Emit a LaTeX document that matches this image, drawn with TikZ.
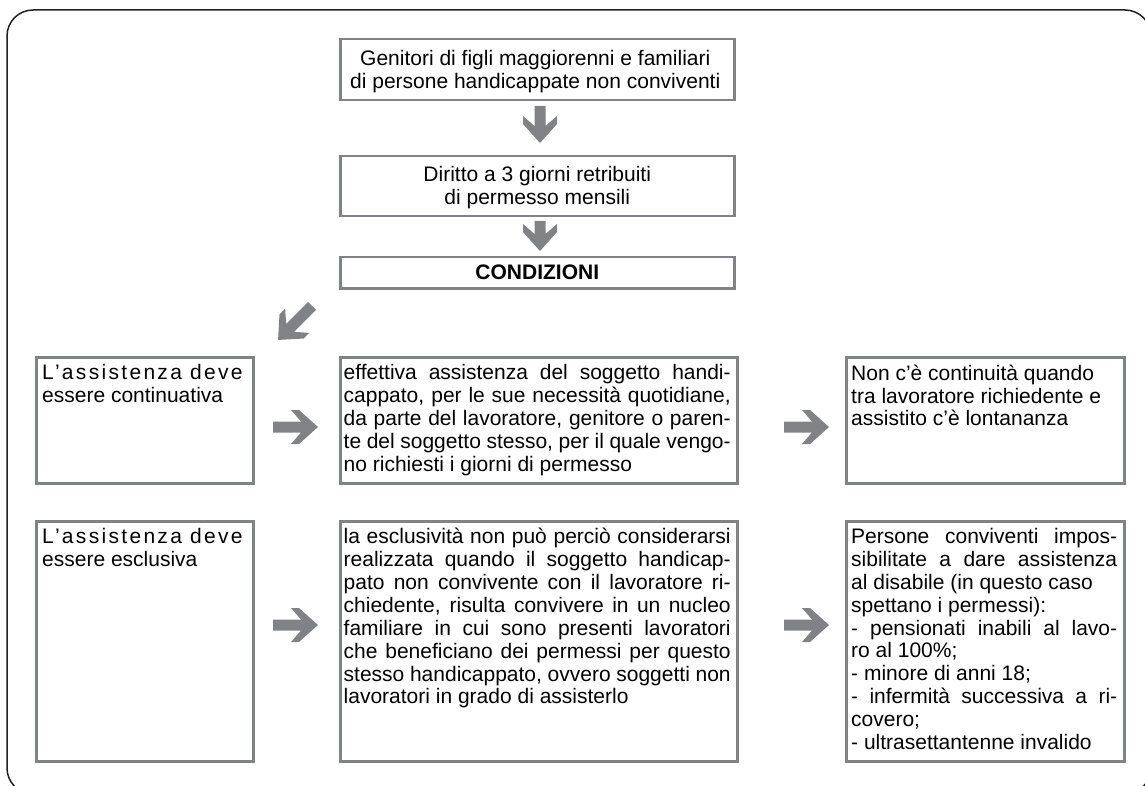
\documentclass[tikz,border=0pt]{standalone}
\usepackage{fontspec}
\setmainfont{Liberation Sans}
\usetikzlibrary{calc}
\definecolor{boxgray}{HTML}{808285}
\definecolor{framecol}{HTML}{231F20}
\newcommand{\fatarrow}[4]{% x, y (tail centre), angle, length
  \fill[boxgray, shift={(#1,#2)}, rotate=#3]
    (0,-5.5) -- (#4-17,-5.5) -- (#4-27,-17) -- (#4-19,-17) -- (#4,0)
    -- (#4-19,17) -- (#4-27,17) -- (#4-17,5.5) -- (0,5.5) -- cycle;}
\tikzset{
  box/.style={draw=boxgray, line width=2.5pt, fill=white, inner sep=0pt, anchor=north west},
  ctext/.style={align=center, font=\fontsize{21}{22.9}\selectfont, inner sep=0pt},
  ltext/.style={align=justify, font=\fontsize{21}{22.9}\selectfont, inner sep=0pt, anchor=north west},
}
\begin{document}
\begin{tikzpicture}[x=1pt,y=-1pt]
\useasboundingbox (0,0) rectangle (1145,786);
% outer frame
\draw[framecol, line width=1.5pt, rounded corners=26pt] (7,10) rectangle (1151,794);
% top boxes
\node[box, minimum width=394pt, minimum height=61pt] (b1) at (339,38) {};
\node[ctext] at ($(b1.center)+(-2,1.5)$) {Genitori di figli maggiorenni e familiari\\di persone handicappate non conviventi};
\node[box, minimum width=394pt, minimum height=60pt] (b2) at (339,155) {};
\node[ctext] at ($(b2.center)+(0,1)$) {Diritto a 3 giorni retribuiti\\di permesso mensili};
\node[box, minimum width=394pt, minimum height=31pt] (b3) at (339,256) {};
\node[ctext] at (b3.center) {\bfseries CONDIZIONI};
% row 1
\node[box, minimum width=217pt, minimum height=126pt] (l1) at (35,356) {};
\node[box, minimum width=397pt, minimum height=126pt] (m1) at (339,356) {};
\node[box, minimum width=278pt, minimum height=126pt] (r1) at (845,356) {};
% row 2
\node[box, minimum width=217pt, minimum height=240pt] (l2) at (35,520) {};
\node[box, minimum width=397pt, minimum height=240pt] (m2) at (339,520) {};
\node[box, minimum width=278pt, minimum height=240pt] (r2) at (845,520) {};
% texts
\node[ltext, text width=205pt] at ($(l1.north west)+(7,8.5)$) {{\addfontfeature{LetterSpace=11}L’assistenza deve}\\essere continuativa};
\node[ltext, text width=387pt] at ($(m1.north west)+(4.5,8.5)$) {effettiva assistenza del soggetto handi-\linebreak cappato, per le sue necessità quotidiane,\linebreak da parte del lavoratore, genitore o paren-\linebreak te del soggetto stesso, per il quale vengo-\linebreak no richiesti i giorni di permesso};
\node[ltext, text width=266pt] at ($(r1.north west)+(6,8.5)$) {Non c’è continuità quando\\tra lavoratore richiedente e\\assistito c’è lontananza};
\node[ltext, text width=205pt] at ($(l2.north west)+(7,8)$) {{\addfontfeature{LetterSpace=11}L’assistenza deve}\\essere esclusiva};
\node[ltext, text width=387pt] at ($(m2.north west)+(4.5,8)$) {la esclusività non può perciò considerarsi\linebreak realizzata quando il soggetto handicap-\linebreak pato non convivente con il lavoratore ri-\linebreak chiedente, risulta convivere in un nucleo\linebreak familiare in cui sono presenti lavoratori\linebreak che beneficiano dei permessi per questo\linebreak stesso handicappato, ovvero soggetti non\linebreak lavoratori in grado di assisterlo};
\node[ltext, text width=266pt] at ($(r2.north west)+(6,8)$) {Persone conviventi impos-\linebreak sibilitate a dare assistenza\linebreak al disabile (in questo caso\\spettano i permessi):\\- pensionati inabili al lavo-\linebreak ro al 100\%;\\- minore di anni 18;\\- infermità successiva a ri-\linebreak covero;\\- ultrasettantenne invalido};
% fat arrows
\fatarrow{540}{106}{-90}{37}
\fatarrow{540}{221}{-90}{30}
\fatarrow{312}{306}{-135}{48}
\fatarrow{273}{427}{0}{45}
\fatarrow{784}{427}{0}{45}
\fatarrow{273}{625}{0}{45}
\fatarrow{784}{625}{0}{45}
\end{tikzpicture}
\end{document}
